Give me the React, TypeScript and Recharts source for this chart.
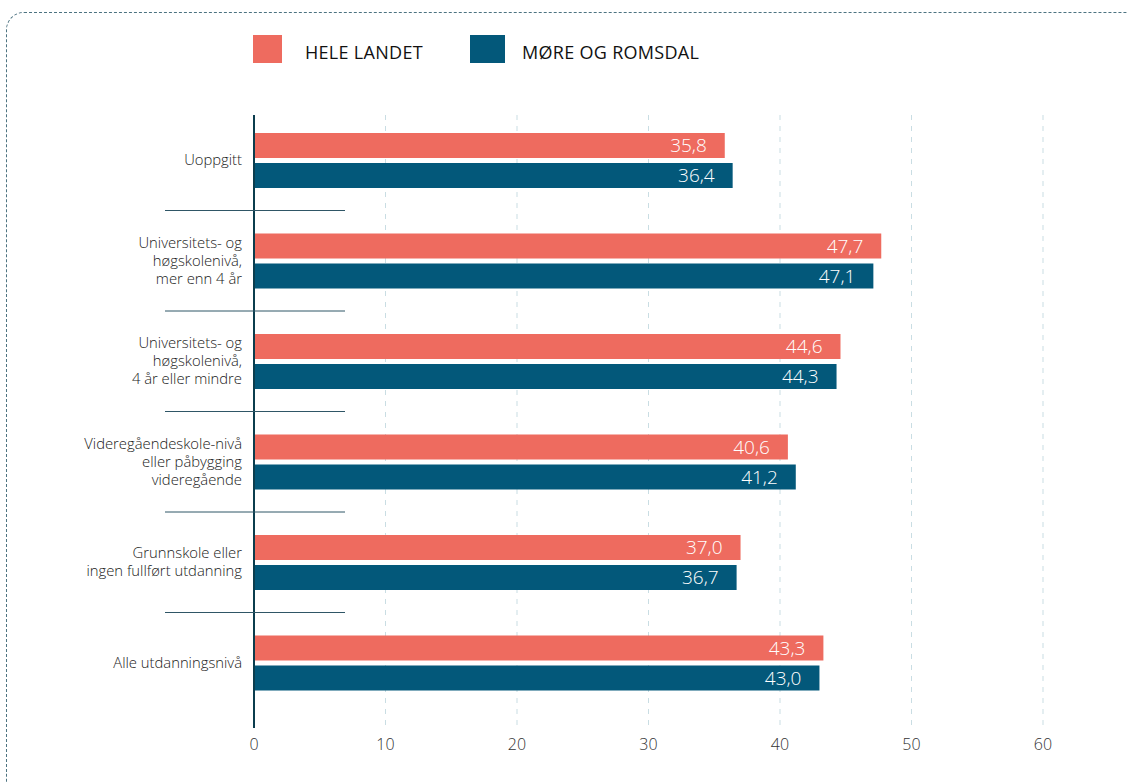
import React from "react";
import {
	Bar,
	BarChart,
	CartesianGrid,
	LabelList,
	XAxis,
	YAxis,
} from "recharts";

const categories = [
	"Uoppgitt",
	"Universitets- og høgskolenivå, mer enn 4 år",
	"Universitets- og høgskolenivå, 4 år eller mindre",
	"Videregåendeskole-nivå eller påbygging videregående",
	"Grunnskole eller ingen fullført utdanning",
	"Alle utdanningsnivå",
];
const categoryLines = [
	["Uoppgitt"],
	["Universitets- og", "høgskolenivå,", "mer enn 4 år"],
	["Universitets- og", "høgskolenivå,", "4 år eller mindre"],
	["Videregåendeskole-nivå", "eller påbygging", "videregående"],
	["Grunnskole eller", "ingen fullført utdanning"],
	["Alle utdanningsnivå"],
];
const seriesNames = ["HELE LANDET", "MØRE OG ROMSDAL"];
const heleLandet = [35.8, 47.7, 44.6, 40.6, 37.0, 43.3];
const moreOgRomsdal = [36.4, 47.1, 44.3, 41.2, 36.7, 43.0];
const xTicks = [0, 10, 20, 30, 40, 50, 60];

const data = categories.map((name, i) => ({
	name,
	hele: heleLandet[i],
	more: moreOgRomsdal[i],
}));

const SALMON = "#ee6b5f";
const BLUE = "#03587a";
const AXIS = "#0b3d4e";
const FONT = "'Open Sans', Lato, sans-serif";
const BAND = 100.5;

const fmt = (v: any) => Number(v).toFixed(1).replace(".", ",");

function CategoryTick(props: any) {
	const { x, y, payload, index } = props;
	const lines = categoryLines[index] ?? [payload.value];
	const lh = 18;
	const start = y - ((lines.length - 1) * lh) / 2;
	const axisX = x + 14;
	return (
		<g>
			<text
				x={x}
				y={start}
				textAnchor="end"
				fontFamily={FONT}
				fontWeight={300}
				fontSize={14.8}
				fill="#1a1a1a"
			>
				{lines.map((l: string, i: number) => (
					<tspan key={i} x={x} y={start + i * lh} dy="0.35em">
						{l}
					</tspan>
				))}
			</text>
			{index < categories.length - 1 && (
				<line
					x1={axisX - 91}
					x2={axisX + 89}
					y1={y + BAND / 2}
					y2={y + BAND / 2}
					stroke="#2f5666"
					strokeWidth={1}
				/>
			)}
		</g>
	);
}

const legendItems = [
	{ label: seriesNames[0], color: SALMON, box: 253, w: 29, text: 305 },
	{ label: seriesNames[1], color: BLUE, box: 470, w: 35, text: 522 },
];

export default function App() {
	return (
		<div style={{ position: "relative", width: 1127, height: 782 }}>
			<style>{`body{margin:0;overflow:hidden;}`}</style>
			<div
				style={{
					position: "absolute",
					left: 6,
					top: 12,
					width: 1140,
					height: 800,
					border: "1.5px dashed #4d7381",
					borderRadius: 18,
					boxSizing: "border-box",
				}}
			/>
			{legendItems.map((it) => (
				<React.Fragment key={it.label}>
					<div
						style={{
							position: "absolute",
							left: it.box,
							top: 35,
							width: it.w,
							height: 28,
							background: it.color,
						}}
					/>
					<div
						style={{
							position: "absolute",
							left: it.text,
							top: 40,
							fontFamily: FONT,
							fontSize: 18,
							fontWeight: 500,
							color: "#111",
							letterSpacing: 0.3,
							whiteSpace: "nowrap",
						}}
					>
						{it.label}
					</div>
				</React.Fragment>
			))}
			<div style={{ position: "absolute", left: 0, top: 0 }}>
				<BarChart
					width={1127}
					height={782}
					data={data}
					layout="vertical"
					barSize={25}
					barGap={5}
					margin={{ top: 115, right: 84, left: 0, bottom: 24 }}
				>
					<CartesianGrid
						horizontal={false}
						stroke="#c9dde3"
						strokeDasharray="5 6"
					/>
					<XAxis
						type="number"
						domain={[0, 60]}
						ticks={xTicks}
						axisLine={false}
						tickLine={false}
						height={30}
						tickMargin={5}
						tick={{
							fontSize: 16,
							fill: "#333",
							fontFamily: FONT,
							fontWeight: 300,
						}}
					/>
					<YAxis
						type="category"
						dataKey="name"
						width={254}
						axisLine={{ stroke: AXIS, strokeWidth: 2 }}
						tickLine={false}
						tickMargin={6}
						padding={{ top: -5, bottom: 15 }}
						tick={<CategoryTick />}
						interval={0}
					/>
					<Bar
						dataKey="hele"
						name={seriesNames[0]}
						fill={SALMON}
						isAnimationActive={false}
					>
						<LabelList
							dataKey="hele"
							position="insideRight"
							offset={18}
							formatter={fmt}
							fill="#fff"
							fontSize={19}
							fontWeight={300}
							fontFamily={FONT}
						/>
					</Bar>
					<Bar
						dataKey="more"
						name={seriesNames[1]}
						fill={BLUE}
						isAnimationActive={false}
					>
						<LabelList
							dataKey="more"
							position="insideRight"
							offset={18}
							formatter={fmt}
							fill="#fff"
							fontSize={19}
							fontWeight={300}
							fontFamily={FONT}
						/>
					</Bar>
				</BarChart>
			</div>
		</div>
	);
}
